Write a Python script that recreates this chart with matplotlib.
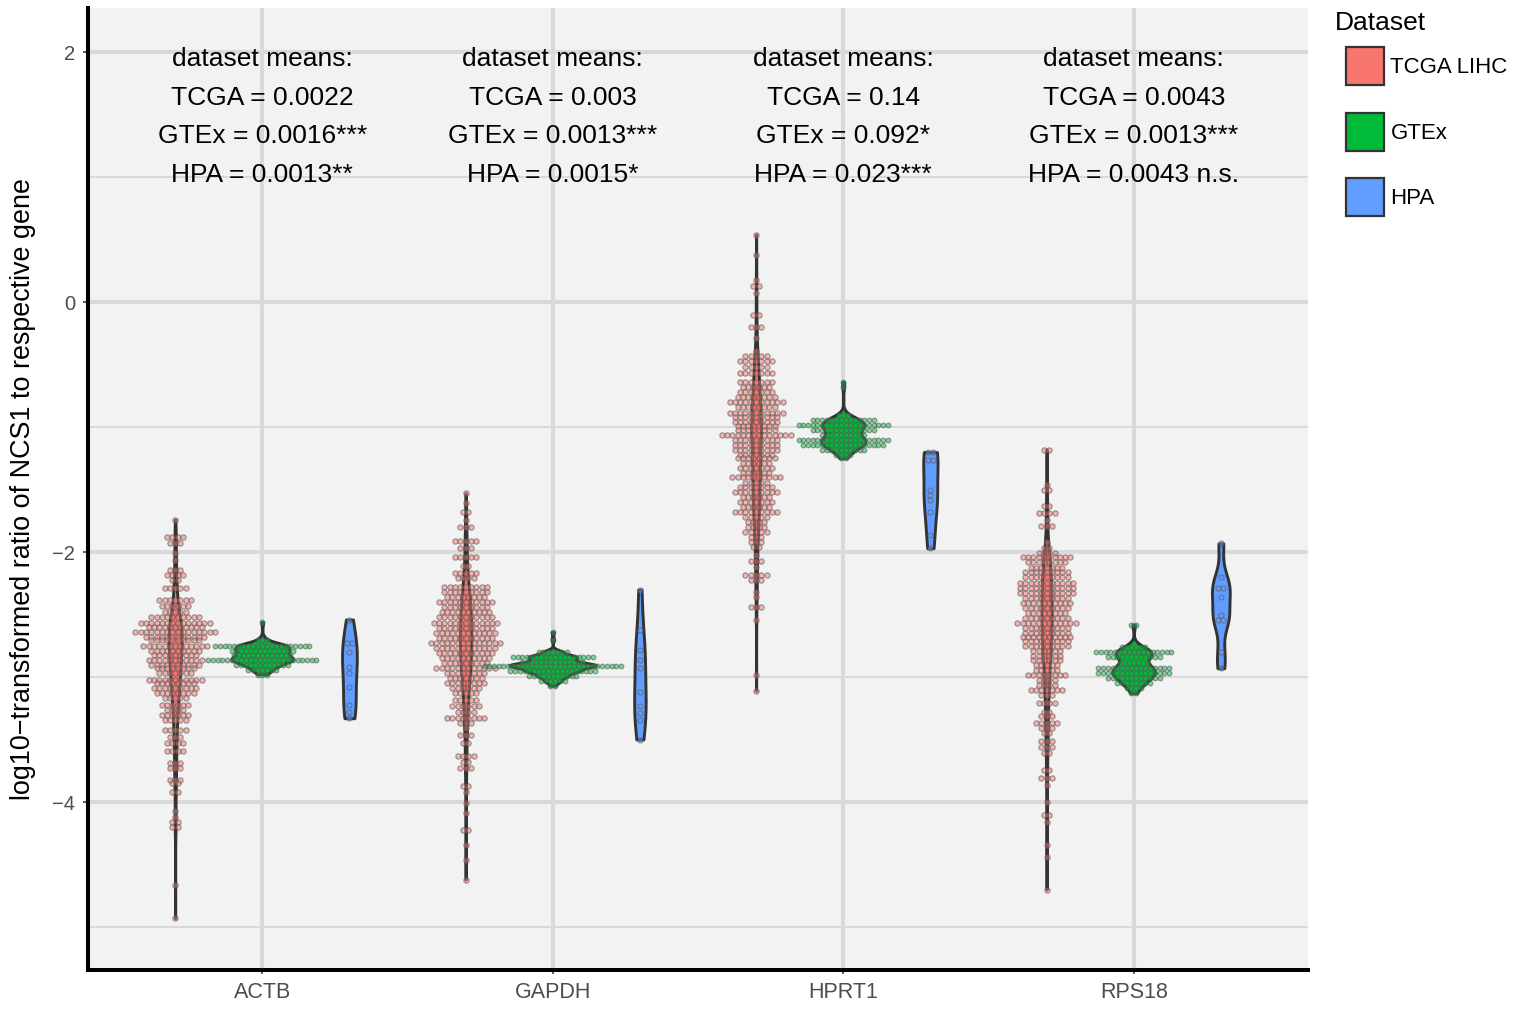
import numpy as np
import matplotlib
matplotlib.use("Agg")
import matplotlib.pyplot as plt
from matplotlib import cbook
from matplotlib.mlab import GaussianKDE
from matplotlib.patches import Patch

plt.rcParams['font.family'] = ['Liberation Sans', 'DejaVu Sans']

genes = ['ACTB', 'GAPDH', 'HPRT1', 'RPS18']
datasets = ['TCGA LIHC', 'GTEx', 'HPA']
colors = ['#F8766D', '#00BA38', '#619CFF']

# dot rows: level (log10 ratio) and number of dots in that row
actb_tcga_y = [-1.74, -1.88, -1.93, -2.01, -2.06, -2.14, -2.18, -2.22, -2.29, -2.38, -2.43, -2.48, -2.52,
               -2.57, -2.60, -2.64, -2.68, -2.70, -2.75, -2.79, -2.82, -2.86, -2.90, -2.93, -2.97, -3.02,
               -3.05, -3.09, -3.13, -3.17, -3.22, -3.26, -3.30, -3.34, -3.42, -3.48, -3.53, -3.59, -3.69,
               -3.73, -3.82, -3.85, -3.92, -4.07, -4.12, -4.16, -4.20, -4.66, -4.93]
actb_tcga_n = [1, 4, 3, 1, 1, 3, 4, 2, 5, 7, 6, 5, 10, 14, 11, 16, 12, 10, 13, 10, 9, 11, 10, 8, 7, 11,
               8, 9, 8, 5, 6, 4, 6, 5, 5, 3, 4, 4, 3, 3, 3, 2, 2, 1, 1, 2, 2, 1, 1]
actb_gtex_y = [-2.56, -2.70, -2.75, -2.79, -2.82, -2.86, -2.90, -2.94, -2.98]
actb_gtex_n = [1, 3, 21, 14, 13, 24, 12, 7, 3]
actb_hpa_y = [-2.54, -2.73, -2.80, -2.92, -2.97, -3.08, -3.22, -3.28, -3.33]
actb_hpa_n = [1, 2, 1, 1, 1, 1, 1, 1, 1]

gapdh_tcga_y = [-1.53, -1.61, -1.68, -1.74, -1.80, -1.91, -1.97, -2.04, -2.11, -2.17, -2.21, -2.28, -2.32,
                -2.36, -2.40, -2.44, -2.48, -2.52, -2.57, -2.61, -2.65, -2.69, -2.73, -2.77, -2.81, -2.85,
                -2.89, -2.93, -2.97, -3.01, -3.05, -3.09, -3.13, -3.18, -3.23, -3.28, -3.33, -3.37, -3.41,
                -3.46, -3.53, -3.63, -3.68, -3.73, -3.87, -3.92, -4.01, -4.09, -4.22, -4.34, -4.46, -4.62]
gapdh_tcga_n = [1, 1, 2, 1, 3, 5, 3, 5, 2, 5, 4, 9, 9, 8, 11, 9, 10, 11, 13, 11, 12, 11, 14, 12, 11, 10,
                9, 12, 8, 7, 8, 6, 5, 5, 6, 4, 8, 3, 1, 3, 2, 4, 2, 3, 2, 1, 1, 1, 2, 1, 1, 1]
gapdh_gtex_y = [-2.64, -2.70, -2.80, -2.84, -2.88, -2.91, -2.95, -2.99, -3.03, -3.07]
gapdh_gtex_n = [1, 1, 7, 18, 14, 30, 19, 11, 6, 2]
gapdh_hpa_y = [-2.30, -2.62, -2.78, -2.86, -2.93, -3.12, -3.23, -3.29, -3.34, -3.50]
gapdh_hpa_n = [1, 1, 1, 1, 1, 1, 1, 1, 1, 1]

hprt1_tcga_y = [0.54, 0.38, 0.18, 0.13, 0.07, -0.10, -0.20, -0.29, -0.39, -0.43, -0.47, -0.52, -0.57,
                -0.64, -0.68, -0.72, -0.76, -0.80, -0.84, -0.89, -0.92, -0.96, -0.99, -1.02, -1.06, -1.10,
                -1.14, -1.18, -1.22, -1.25, -1.29, -1.33, -1.37, -1.40, -1.45, -1.48, -1.52, -1.56, -1.60,
                -1.64, -1.68, -1.72, -1.76, -1.80, -1.84, -1.88, -1.92, -1.96, -2.02, -2.07, -2.12, -2.18,
                -2.22, -2.32, -2.36, -2.44, -2.54, -2.98, -3.11]
hprt1_tcga_n = [1, 1, 1, 2, 1, 2, 3, 1, 1, 5, 7, 5, 7, 7, 6, 7, 8, 11, 8, 11, 9, 9, 8, 8, 14, 9,
                9, 9, 7, 8, 6, 7, 6, 10, 5, 7, 9, 6, 7, 6, 9, 5, 4, 4, 5, 3, 3, 2, 1, 3, 1, 5,
                3, 1, 1, 3, 1, 1, 1]
hprt1_gtex_y = [-0.64, -0.68, -0.90, -0.94, -0.98, -1.02, -1.06, -1.10, -1.14, -1.18, -1.22, -1.25]
hprt1_gtex_n = [1, 1, 3, 14, 20, 14, 10, 20, 18, 10, 4, 2]
hprt1_hpa_y = [-1.20, -1.26, -1.50, -1.54, -1.58, -1.68, -1.86, -1.97]
hprt1_hpa_n = [2, 2, 1, 1, 1, 1, 1, 1]

rps18_tcga_y = [-1.18, -1.46, -1.50, -1.63, -1.69, -1.74, -1.79, -1.92, -1.97, -2.01, -2.04, -2.08, -2.13,
                -2.16, -2.20, -2.25, -2.29, -2.33, -2.37, -2.41, -2.45, -2.49, -2.53, -2.57, -2.61, -2.65,
                -2.68, -2.71, -2.75, -2.79, -2.83, -2.86, -2.90, -2.94, -2.98, -3.02, -3.06, -3.10, -3.14,
                -3.21, -3.28, -3.31, -3.37, -3.41, -3.45, -3.51, -3.56, -3.61, -3.74, -3.81, -3.86, -4.00,
                -4.10, -4.16, -4.34, -4.44, -4.70]
rps18_tcga_n = [2, 1, 2, 2, 4, 1, 3, 1, 2, 4, 10, 8, 7, 9, 9, 11, 11, 11, 9, 10, 9, 8, 9, 12, 9, 9,
                10, 9, 9, 6, 6, 6, 5, 5, 8, 4, 4, 7, 3, 4, 2, 3, 5, 3, 2, 3, 3, 2, 2, 3, 1, 1,
                2, 1, 1, 1, 1]
rps18_gtex_y = [-2.58, -2.76, -2.80, -2.84, -2.89, -2.93, -2.97, -3.01, -3.05, -3.09, -3.13]
rps18_gtex_n = [2, 6, 17, 12, 7, 16, 16, 12, 8, 4, 2]
rps18_hpa_y = [-1.93, -2.20, -2.29, -2.36, -2.50, -2.54, -2.80, -2.93]
rps18_hpa_n = [1, 1, 2, 1, 1, 2, 1, 1]

# annotation text per gene
means_text = [
    ['TCGA = 0.0022', 'GTEx = 0.0016***', 'HPA = 0.0013**'],
    ['TCGA = 0.003', 'GTEx = 0.0013***', 'HPA = 0.0015*'],
    ['TCGA = 0.14', 'GTEx = 0.092*', 'HPA = 0.023***'],
    ['TCGA = 0.0043', 'GTEx = 0.0013***', 'HPA = 0.0043 n.s.'],
]

groups = [
    [(actb_tcga_y, actb_tcga_n), (actb_gtex_y, actb_gtex_n), (actb_hpa_y, actb_hpa_n)],
    [(gapdh_tcga_y, gapdh_tcga_n), (gapdh_gtex_y, gapdh_gtex_n), (gapdh_hpa_y, gapdh_hpa_n)],
    [(hprt1_tcga_y, hprt1_tcga_n), (hprt1_gtex_y, hprt1_gtex_n), (hprt1_hpa_y, hprt1_hpa_n)],
    [(rps18_tcga_y, rps18_tcga_n), (rps18_gtex_y, rps18_gtex_n), (rps18_hpa_y, rps18_hpa_n)],
]


def nrd0(x):
    sd = np.std(x, ddof=1)
    q75, q25 = np.percentile(x, [75, 25])
    lo = min(sd, (q75 - q25) / 1.34) if q75 > q25 else sd
    return 0.9 * lo * len(x) ** -0.2


def kde_method(x, coords):
    kde = GaussianKDE(x, bw_method=nrd0(x) / np.std(x, ddof=1))
    return kde.evaluate(coords)


W, H = 1525, 1010
fig = plt.figure(figsize=(W / 100, H / 100), dpi=100)
ax = fig.add_axes([88 / W, 40 / H, 1220 / W, 962 / H])
ax.set_facecolor('#F2F2F2')
ax.set_xlim(-0.6, 3.6)
ax.set_ylim(-5.344, 2.352)

offsets = [-0.3, 0.0, 0.3]
dot_px = [5.3, 4.7, 5.0]
px_per_x = 1220 / 4.2

stats, positions, fcols = [], [], []
for gi in range(len(genes)):
    for di in range(3):
        ys, ns = groups[gi][di]
        vals = np.repeat(ys, ns)
        stats.append(cbook.violin_stats(vals, kde_method, points=512)[0])
        positions.append(gi + offsets[di])
        fcols.append(colors[di])

# ggplot-like "area" scaling: widths relative to the largest density overall
gmax = max(st['vals'].max() for st in stats)
widths = [0.3 * st['vals'].max() / gmax for st in stats]
parts = ax.violin(stats, positions=positions, widths=widths,
                  showmeans=False, showextrema=False, showmedians=False)
for body, c in zip(parts['bodies'], fcols):
    body.set_facecolor(c)
    body.set_edgecolor('#333333')
    body.set_linewidth(2.1)
    body.set_alpha(1)
    body.set_zorder(2)

# centred dot stacks on top of the violins
for gi in range(len(genes)):
    for di in range(3):
        ys, ns = groups[gi][di]
        step = dot_px[di] / px_per_x
        xs, yy = [], []
        for yv, cnt in zip(ys, ns):
            k = np.arange(cnt) - (cnt - 1) / 2
            xs.extend(gi + offsets[di] + k * step)
            yy.extend([yv] * cnt)
        d_pt = dot_px[di] * 0.72
        ax.scatter(xs, yy, s=d_pt ** 2, facecolor=matplotlib.colors.to_rgba(colors[di], 0.5),
                   edgecolor=(0.35, 0.35, 0.35, 0.6), linewidth=0.8, zorder=3)

# dataset means text
line_y = [1.888, 1.579, 1.270, 0.961]
for gi in range(len(genes)):
    lines = ['dataset means:'] + means_text[gi]
    for yb, t in zip(line_y, lines):
        ax.text(gi, yb, t, ha='center', va='baseline', fontsize=19, color='black', zorder=4)

ax.set_xticks(range(len(genes)))
ax.set_xticklabels(genes)
ax.set_yticks([-4, -2, 0, 2])
ax.set_yticks([-5, -3, -1, 1], minor=True)
ax.grid(which='major', axis='both', color='#D9D9D9', linewidth=2.9)
ax.grid(which='minor', axis='y', color='#D9D9D9', linewidth=1.4)
ax.set_axisbelow(True)
ax.tick_params(axis='y', which='major', length=3.6, width=1.1, color='#333333',
               labelsize=14.5, labelcolor='#4D4D4D', pad=5.5)
ax.tick_params(axis='x', which='major', length=3, width=1.1, color='#333333',
               labelsize=15.5, labelcolor='#4D4D4D', pad=6)
ax.tick_params(which='minor', length=0)
for side in ['top', 'right']:
    ax.spines[side].set_visible(False)
for side in ['left', 'bottom']:
    ax.spines[side].set_color('black')
    ax.spines[side].set_linewidth(2.9)

fig.text(23 / W, 1 - 489 / H, 'log10\u2212transformed ratio of NCS1 to respective gene',
         rotation=90, ha='center', va='center', fontsize=19.4, color='black')

# legend
fig.text(1335 / W, 1 - 30 / H, 'Dataset', fontsize=19, va='baseline', ha='left')
handles = [Patch(facecolor=c, edgecolor='#333333', linewidth=1.6, label=l)
           for c, l in zip(colors, datasets)]
fig.legend(handles=handles, loc='upper left', bbox_to_anchor=(1346 / W, 1 - 47 / H),
           frameon=False, fontsize=16, borderpad=0, borderaxespad=0,
           handlelength=1.7, handleheight=2.25, labelspacing=1.25, handletextpad=0.3)

fig.savefig('out.png', dpi=100)
